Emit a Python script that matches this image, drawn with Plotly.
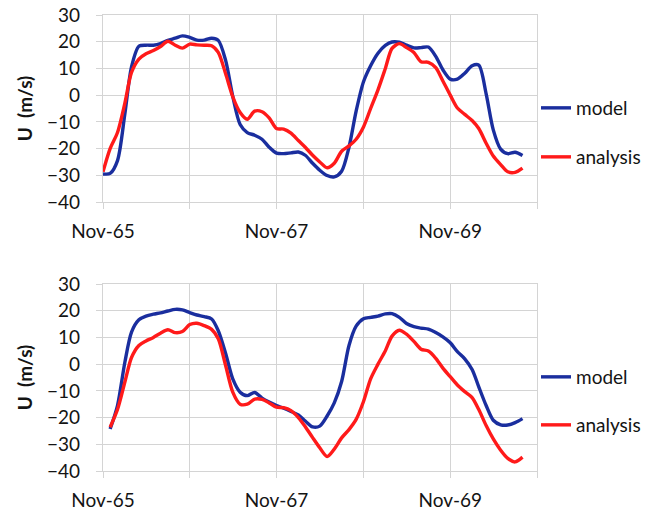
import pandas as pd
import plotly.graph_objects as go

# ---------------- data ----------------
months_top = pd.date_range("1965-11-01", periods=59, freq="MS")
months_bot = pd.date_range("1965-12-01", periods=58, freq="MS")

top_model = [-29.5, -29.3, -24.5, -7.0, 10.6, 18.3, 18.7, 18.7, 19.3, 20.5,
             21.3, 22.2, 21.6, 20.6, 20.6, 21.3, 20.5, 13.0, -0.5, -11.0,
             -14.0, -15.0, -16.5, -19.5, -21.7, -21.9, -21.6, -21.3, -22.5, -25.5,
             -28.1, -30.1, -30.6, -28.5, -19.5, -6.0, 5.0, 11.0, 15.7, 18.6,
             19.9, 19.8, 18.7, 17.7, 17.8, 18.0, 14.5, 9.5, 6.0, 6.0,
             8.2, 11.0, 11.2, 0.5, -13.0, -20.2, -21.9, -21.4, -22.6]
top_analysis = [-28.7, -20.0, -14.0, -3.0, 8.5, 13.5, 15.5, 16.7, 18.2, 20.2,
                18.7, 17.6, 19.1, 18.8, 18.7, 18.5, 16.0, 8.0, -0.6, -6.5,
                -9.0, -6.0, -6.2, -8.5, -12.5, -12.7, -14.2, -17.0, -19.5, -22.5,
                -25.0, -27.2, -25.5, -21.0, -19.0, -16.5, -11.9, -5.0, 2.0, 10.0,
                17.5, 19.3, 17.8, 16.0, 12.5, 12.3, 10.3, 5.3, 0.0, -4.8,
                -7.2, -9.5, -12.5, -18.0, -22.8, -26.0, -28.7, -28.9, -27.3]

bot_model = [-24.3, -15.5, 0.7, 12.0, 16.6, 18.0, 18.7, 19.2, 19.9, 20.5,
             20.3, 19.3, 18.4, 17.8, 16.9, 12.5, 4.0, -5.5, -10.5, -11.8,
             -10.6, -12.7, -14.2, -15.5, -16.5, -17.7, -19.0, -21.3, -23.5, -23.2,
             -19.4, -14.5, -6.5, 7.0, 14.2, 17.0, 17.5, 18.0, 18.8, 18.9,
             17.5, 15.2, 14.0, 13.5, 13.1, 11.8, 10.2, 8.0, 4.7, 2.0,
             -2.0, -8.5, -15.5, -21.0, -22.7, -22.8, -21.9, -20.4]
bot_analysis = [-23.6, -17.0, -6.7, 2.5, 7.0, 8.7, 10.0, 11.6, 12.9, 11.8,
                12.2, 14.8, 15.3, 14.4, 13.0, 9.5, -0.5, -10.5, -15.0, -15.0,
                -13.1, -13.2, -14.5, -16.1, -16.3, -17.4, -20.0, -23.4, -27.5, -31.3,
                -34.6, -31.8, -27.6, -24.5, -20.7, -14.0, -5.5, 0.0, 5.0, 10.5,
                12.7, 11.2, 8.5, 5.6, 4.9, 2.2, -1.5, -4.7, -7.8, -10.3,
                -12.5, -17.0, -23.0, -28.0, -32.2, -35.3, -36.6, -34.8]

tick_dates = ["1965-11-01", "1966-11-01", "1967-11-01", "1968-11-01", "1969-11-01", "1970-11-01"]
tick_labels = ["Nov-65", "", "Nov-67", "", "Nov-69", ""]
y_ticks = [30, 20, 10, 0, -10, -20, -30, -40]
series_names = ["model", "analysis"]

# ---------------- style ----------------
W, H = 647, 512
BLUE = "#1a2e9e"
RED = "#ff1a1a"
GRID = "#d4d4d4"
FONT = "Lato"
TXT = "#141414"

def px_x(p):
    return p / W

def px_y(p):
    return 1 - p / H

fig = go.Figure()

def add(xs, ys, name, color, xa, ya, legend):
    fig.add_trace(go.Scatter(
        x=xs, y=ys, name=name, mode="lines",
        line=dict(color=color, width=3.4, shape="spline", smoothing=0.8),
        xaxis=xa, yaxis=ya, legend=legend, showlegend=True,
    ))

add(months_top, top_model, series_names[0], BLUE, "x", "y", "legend")
add(months_top, top_analysis, series_names[1], RED, "x", "y", "legend2")
add(months_bot, bot_model, series_names[0], BLUE, "x2", "y2", "legend3")
add(months_bot, bot_analysis, series_names[1], RED, "x2", "y2", "legend4")

xdom = [px_x(103), px_x(537)]
common_x = dict(
    range=["1965-11-01", "1970-11-01"], tickvals=tick_dates, ticktext=tick_labels,
    showgrid=True, gridcolor=GRID, gridwidth=1.3,
    showline=True, linecolor=GRID, linewidth=1.3, mirror=True,
    ticks="outside", ticklen=6, tickcolor=GRID, tickwidth=1.3,
    tickfont=dict(family=FONT, size=19, color=TXT),
    zeroline=False, domain=xdom, ticklabelstandoff=6, automargin=False,
)
common_y = dict(
    range=[-40, 30], tickvals=y_ticks,
    showgrid=True, gridcolor=GRID, gridwidth=1.3,
    showline=True, linecolor=GRID, linewidth=1.3, mirror=True,
    ticks="outside", ticklen=6, tickcolor=GRID, tickwidth=1.3,
    tickfont=dict(family=FONT, size=19, color=TXT),
    zeroline=False, ticklabelstandoff=12, automargin=False,
    title=dict(text="<b>U  (m/s)</b>", font=dict(family=FONT, size=19, color=TXT), standoff=9),
)

fig.update_layout(
    width=W, height=H,
    margin=dict(l=0, r=0, t=0, b=0, autoexpand=False),
    paper_bgcolor="white", plot_bgcolor="white",
    font=dict(family=FONT, size=19, color=TXT),
    xaxis=dict(**common_x, anchor="y"),
    yaxis=dict(**common_y, domain=[px_y(202), px_y(15)], anchor="x"),
    xaxis2=dict(**common_x, anchor="y2"),
    yaxis2=dict(**common_y, domain=[px_y(471), px_y(284)], anchor="x2"),
)

leg_common = dict(xanchor="left", yanchor="middle", bgcolor="rgba(0,0,0,0)",
                  font=dict(family=FONT, size=19, color=TXT), itemwidth=30)
fig.update_layout(
    legend=dict(x=px_x(536), y=px_y(108), **leg_common),
    legend2=dict(x=px_x(536), y=px_y(157), **leg_common),
    legend3=dict(x=px_x(536), y=px_y(377), **leg_common),
    legend4=dict(x=px_x(536), y=px_y(425), **leg_common),
)

fig.write_html(
    "out.html",
    config={"displayModeBar": False},
    post_script="document.body.style.margin='0';document.body.style.padding='0';document.body.style.overflow='hidden';",
)
